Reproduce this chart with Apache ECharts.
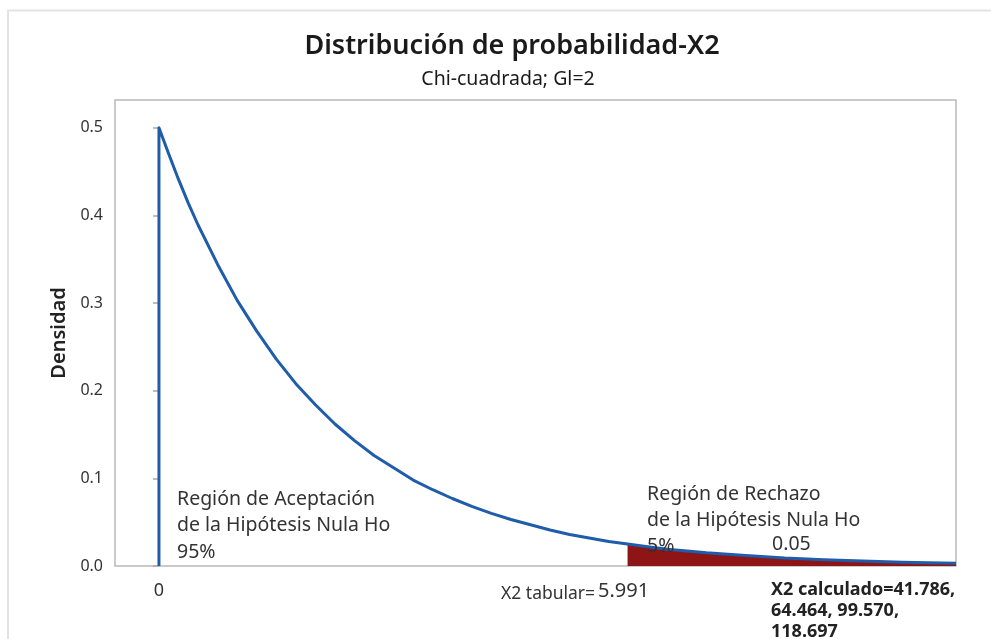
<!DOCTYPE html>
<html>
<head>
<meta charset="utf-8">
<script src="https://cdn.jsdelivr.net/npm/echarts@6/dist/echarts.min.js"></script>
<style>
  html, body { margin: 0; padding: 0; background: #ffffff; }
  #chart { width: 991px; height: 639px; }
</style>
</head>
<body>
<div id="chart"></div>
<script>
// Chi-square density, 2 degrees of freedom
const curveX = [0, 0.125, 0.25, 0.375, 0.5, 0.75, 1, 1.25, 1.5, 1.75, 2, 2.25, 2.5, 2.75, 3, 3.25, 3.5, 3.75, 4, 4.25, 4.5, 4.75, 5, 5.25, 5.5, 5.75, 5.991, 6.25, 6.5, 6.75, 7, 7.5, 8, 8.5, 9, 9.5, 10, 10.19];
const curveY = [0.500, 0.470, 0.441, 0.414, 0.389, 0.344, 0.303, 0.268, 0.236, 0.208, 0.184, 0.162, 0.143, 0.126, 0.112, 0.098, 0.087, 0.077, 0.068, 0.060, 0.053, 0.047, 0.041, 0.036, 0.032, 0.028, 0.025, 0.022, 0.019, 0.017, 0.015, 0.012, 0.009, 0.007, 0.0056, 0.0043, 0.0034, 0.0031];

// Critical value and rejection tail
const critical = 5.991;
const tailX = [5.991, 6.25, 6.5, 6.75, 7, 7.5, 8, 8.5, 9, 9.5, 10, 10.19];
const tailY = [0.025, 0.022, 0.019, 0.017, 0.015, 0.012, 0.009, 0.007, 0.0056, 0.0043, 0.0034, 0.0031];

const xLabelValues = [0];
const yTicks = [0, 0.1, 0.2, 0.3, 0.4, 0.5];

const font = '"Noto Sans", "Open Sans", sans-serif';

const curveData = [[0, 0]].concat(curveX.map((x, i) => [x, curveY[i]]));
const tailData = tailX.map((x, i) => [x, tailY[i]]);

const chart = echarts.init(document.getElementById('chart'), null, { renderer: 'canvas' });

chart.setOption({
  animation: false,
  backgroundColor: '#ffffff',
  textStyle: { fontFamily: font },
  title: [
    {
      text: 'Distribución de probabilidad-X2',
      left: 507, top: 28, textAlign: 'center',
      textStyle: { fontFamily: font, fontSize: 27, fontWeight: 600, color: '#1a1a1a' }
    },
    {
      text: 'Chi-cuadrada; Gl=2',
      left: 503, top: 64, textAlign: 'center',
      textStyle: { fontFamily: font, fontSize: 19.5, fontWeight: 400, color: '#1a1a1a' }
    }
  ],
  grid: {
    left: 115, top: 100, right: 35, bottom: 73,
    show: true, borderColor: '#b9b9b9', borderWidth: 1.5, backgroundColor: '#ffffff'
  },
  xAxis: {
    type: 'value',
    min: -0.562, max: 10.19,
    splitLine: { show: false },
    axisLine: { show: false },
    axisTick: { show: false },
    axisLabel: {
      customValues: xLabelValues,
      formatter: v => String(v),
      margin: 16,
      fontFamily: font, fontSize: 18, color: '#333333'
    }
  },
  yAxis: {
    type: 'value',
    min: 0, max: 0.5316,
    interval: 0.1,
    name: 'Densidad',
    nameLocation: 'middle',
    nameGap: 46,
    nameRotate: 90,
    nameTextStyle: { fontFamily: font, fontSize: 20, fontWeight: 600, color: '#222222' },
    splitLine: { show: false },
    axisLine: { show: false },
    axisTick: { show: true, length: 6, lineStyle: { color: '#a8a8a8', width: 1.5 }, customValues: yTicks },
    axisLabel: {
      customValues: yTicks,
      formatter: v => v.toFixed(1),
      margin: 12,
      fontFamily: font, fontSize: 16, color: '#333333'
    }
  },
  series: [
    {
      name: 'rechazo',
      type: 'line',
      data: tailData,
      smooth: false,
      symbol: 'none',
      lineStyle: { width: 0 },
      areaStyle: { color: '#8e1515', opacity: 1 },
      z: 2
    },
    {
      name: 'densidad',
      type: 'line',
      data: curveData,
      smooth: false,
      symbol: 'none',
      lineStyle: { color: '#1f5caa', width: 3, join: 'round' },
      z: 3
    }
  ],
  graphic: [
    {
      type: 'polyline', silent: true, z: -1,
      shape: { points: [[8, 639], [8, 10.5], [991, 10.5]] },
      style: { stroke: '#e3e3e3', lineWidth: 2, fill: null }
    },
    {
      type: 'text', left: 177, top: 486, z: 10,
      style: { text: 'Región de Aceptación\nde la Hipótesis Nula Ho\n95%', font: '19.5px ' + font, fill: '#333333', lineHeight: 26.5 }
    },
    {
      type: 'text', left: 647, top: 481, z: 10,
      style: { text: 'Región de Rechazo\nde la Hipótesis Nula Ho\n5%', font: '19.5px ' + font, fill: '#333333', lineHeight: 26 }
    },
    {
      type: 'text', left: 772, top: 534, z: 10,
      style: { text: String(0.05), font: '19.5px ' + font, fill: '#333333' }
    },
    {
      type: 'text', left: 501, top: 585, z: 10,
      style: { text: 'X2 tabular=', font: '17.5px ' + font, fill: '#333333' }
    },
    {
      type: 'text', left: 598, top: 581, z: 10,
      style: { text: String(critical), font: '20px ' + font, fill: '#333333' }
    },
    {
      type: 'text', left: 771, top: 579, z: 10,
      style: { text: 'X2 calculado=41.786,\n64.464, 99.570,\n118.697', font: 'bold 18px ' + font, fill: '#222222', lineHeight: 21 }
    }
  ]
});
</script>
</body>
</html>
